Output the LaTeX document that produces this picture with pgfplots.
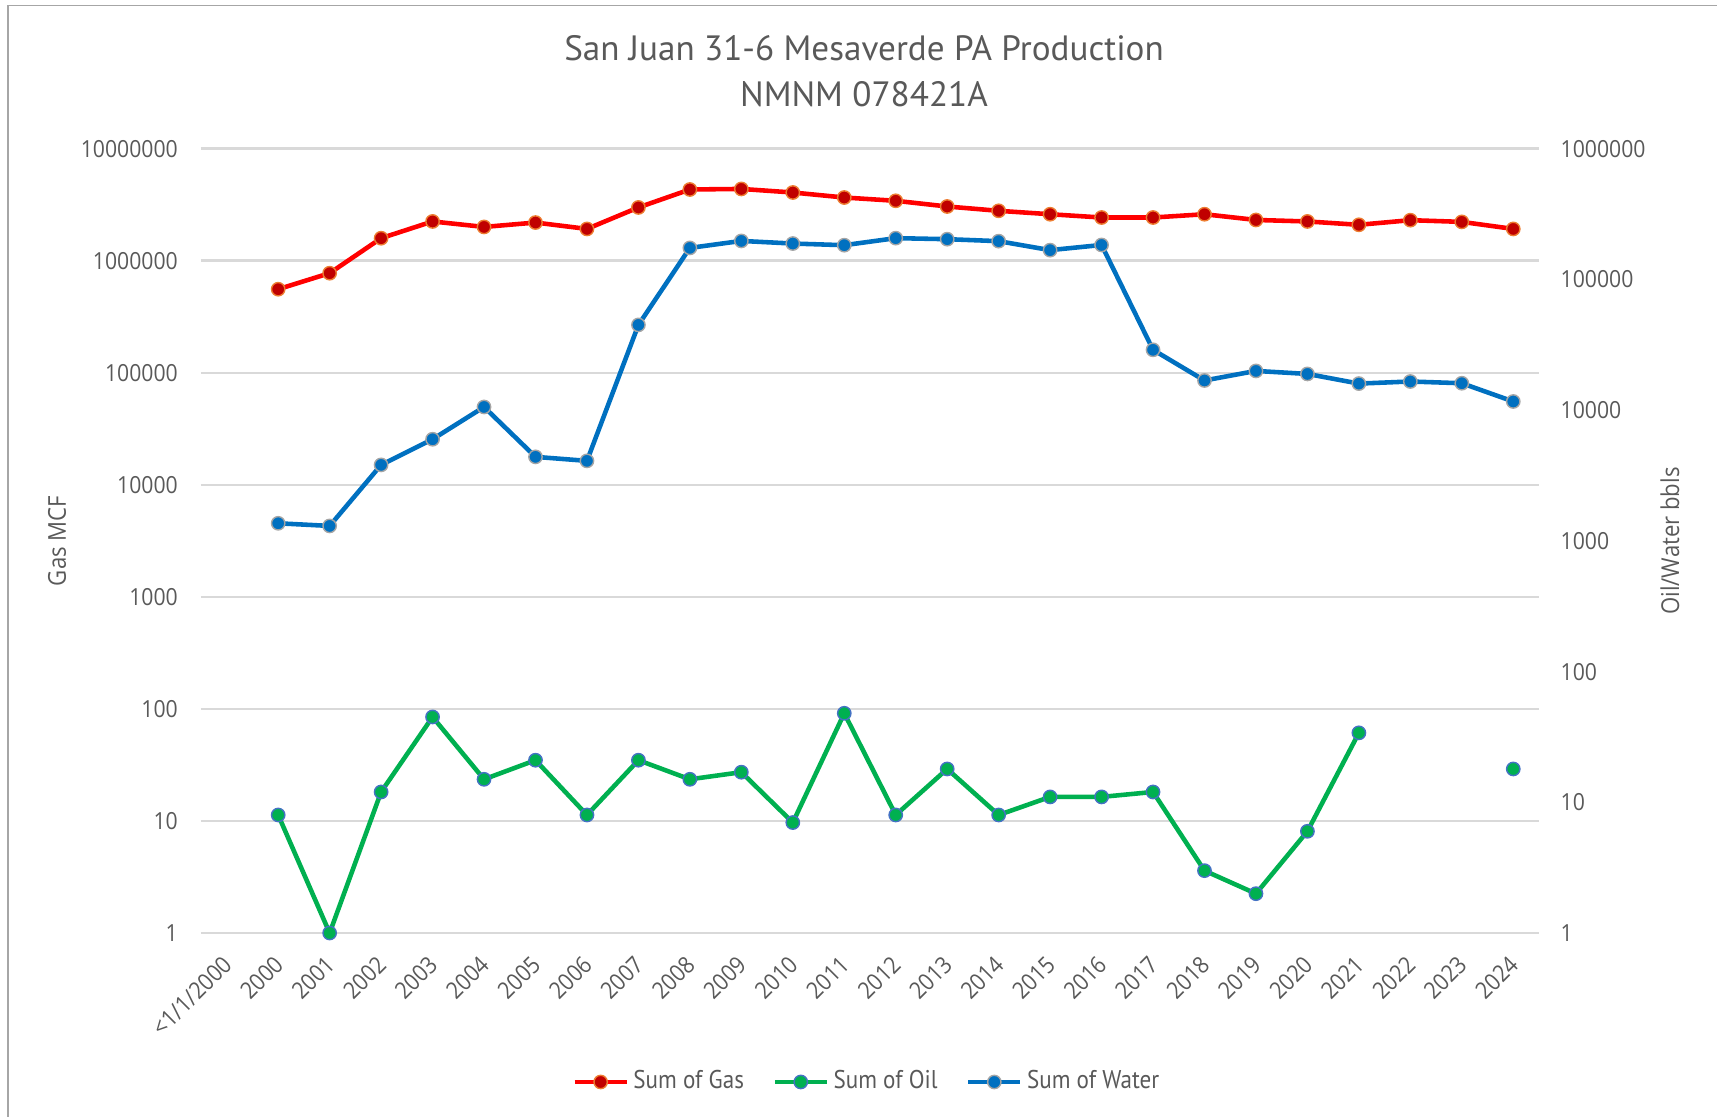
\documentclass[border=0pt]{standalone}
\usepackage{fontspec}
\setmainfont{Open Sans}[FakeStretch=0.9]
\newfontfamily\narrowfont{PT Sans}[FakeStretch=0.9]
\newfontfamily\titlefont{PT Sans}
\usepackage{pgfplots}
\usepackage{pgfplotstable}
\pgfplotsset{compat=1.18}
\definecolor{txt}{HTML}{595959}
\definecolor{gridc}{HTML}{D9D9D9}
\definecolor{framec}{HTML}{A6A6A6}
\definecolor{gasline}{HTML}{FF0000}
\definecolor{gasfill}{HTML}{C00000}
\definecolor{gasedge}{HTML}{ED7D31}
\definecolor{oilline}{HTML}{00B050}
\definecolor{oiledge}{HTML}{4472C4}
\definecolor{watline}{HTML}{0070C0}
\definecolor{watedge}{HTML}{A5A5A5}

% x: 0 = <1/1/2000, 1 = 2000, ..., 25 = 2024
\pgfplotstableread{
x gas
1 559000
2 777000
3 1595000
4 2250000
5 2010000
6 2200000
7 1930000
8 3000000
9 4340000
10 4390000
11 4080000
12 3680000
13 3440000
14 3060000
15 2800000
16 2610000
17 2440000
18 2440000
19 2610000
20 2320000
21 2250000
22 2100000
23 2310000
24 2230000
25 1930000
}\gasdata

\pgfplotstableread{
x oil
1 8
2 1
3 12
4 45
5 15
6 21
7 8
8 21
9 15
10 17
11 7
12 48
13 8
14 18
15 8
16 11
17 11
18 12
19 3
20 2
21 6
22 34
23 nan
24 nan
25 18
}\oildata

\pgfplotstableread{
x water
1 1365
2 1303
3 3820
4 6000
5 10600
6 4400
7 4100
8 45000
9 174700
10 197600
11 188700
12 183300
13 207500
14 203800
15 196800
16 168000
17 184000
18 29000
19 16900
20 20000
21 18970
22 16000
23 16600
24 16100
25 11670
}\waterdata

\tikzset{
  gasstyle/.style={draw=gasline, line width=1.3pt, mark=*, mark size=1.9pt,
    mark options={solid, fill=gasfill, draw=gasedge, line width=0.4pt}},
  oilstyle/.style={draw=oilline, line width=1.3pt, mark=*, mark size=1.9pt,
    mark options={solid, fill=oilline, draw=oiledge, line width=0.4pt}},
  watstyle/.style={draw=watline, line width=1.3pt, mark=*, mark size=1.9pt,
    mark options={solid, fill=watline, draw=watedge, line width=0.4pt}},
}

\begin{document}
\begin{tikzpicture}
\useasboundingbox (-2.01cm,-1.84cm) rectangle (15.16cm,9.33cm);
\draw[framec, line width=0.45pt] (-1.93cm,-1.84cm) -- (-1.93cm,9.275cm) -- (15.16cm,9.275cm);

\begin{axis}[
  width=13.38cm, height=7.841cm, scale only axis,
  xmin=-0.5, xmax=25.5, ymode=log,
  axis line style={draw=none}, tick style={draw=none},
  /pgf/number format/assume math mode=true,
  tick label style={font=\fontsize{6.7}{8}\selectfont, text=txt},
  label style={font=\fontsize{7}{8}\selectfont, text=txt},
  unbounded coords=jump,
  ymin=1, ymax=1e7,
  ytick={1,10,100,1e3,1e4,1e5,1e6,1e7},
  yticklabels={1,10,100,1000,10000,100000,1000000,10000000},
  ymajorgrids, grid style={gridc, line width=0.8pt},
  yticklabel style={inner sep=0pt, xshift=-2.25mm},
  xtick={0,...,25},
  xticklabels={<1/1/2000,2000,2001,2002,2003,2004,2005,2006,2007,2008,2009,2010,2011,2012,2013,2014,2015,2016,2017,2018,2019,2020,2021,2022,2023,2024},
  xticklabel style={xshift=0.1mm, yshift=-2.7mm, rotate=45, anchor=east, inner sep=0pt},
  ylabel={Gas MCF},
  ylabel style={at={(axis description cs:-0.1076,0.5)}, anchor=center, rotate=0},
]
\addplot[gasstyle] table[x=x, y=gas] {\gasdata};
\end{axis}

\begin{axis}[
  width=13.38cm, height=7.841cm, scale only axis,
  xmin=-0.5, xmax=25.5, ymode=log,
  axis line style={draw=none}, tick style={draw=none},
  /pgf/number format/assume math mode=true,
  tick label style={font=\fontsize{6.7}{8}\selectfont, text=txt},
  label style={font=\fontsize{7}{8}\selectfont, text=txt},
  unbounded coords=jump,
  ymin=1, ymax=1e6,
  hide x axis,
  yticklabel pos=right,
  ytick={1,10,100,1e3,1e4,1e5,1e6},
  yticklabels={1,10,100,1000,10000,100000,1000000},
  yticklabel style={inner sep=0pt, xshift=2.1mm},
  ylabel={Oil/Water bbls},
  ylabel style={at={(axis description cs:1.0979,0.5)}, anchor=center, rotate=0},
  legend columns=3,
  legend style={draw=none, fill=none, at={(axis description cs:0.4985,-0.19)}, anchor=center,
    font=\narrowfont\fontsize{7.3}{8}\selectfont, text=txt,
    /tikz/every even column/.append style={column sep=2.4mm},
    nodes={inner sep=0.45mm}},
  legend image code/.code={\draw[mark repeat=2, mark phase=2, #1] plot coordinates {(0cm,0cm) (0.26cm,0cm) (0.52cm,0cm)};},
]
\addlegendimage{gasstyle}
\addlegendentry{Sum of Gas}
\addplot[oilstyle] table[x=x, y=oil] {\oildata};
\addlegendentry{Sum of Oil}
\addplot[watstyle] table[x=x, y=water] {\waterdata};
\addlegendentry{Sum of Water}
\end{axis}

\node[font=\titlefont\fontsize{10}{13.1}\selectfont, text=txt, align=center]
  at (6.63cm,8.621cm)
  {San Juan 31-6 Mesaverde PA Production\\NMNM 078421A};
\end{tikzpicture}
\end{document}
